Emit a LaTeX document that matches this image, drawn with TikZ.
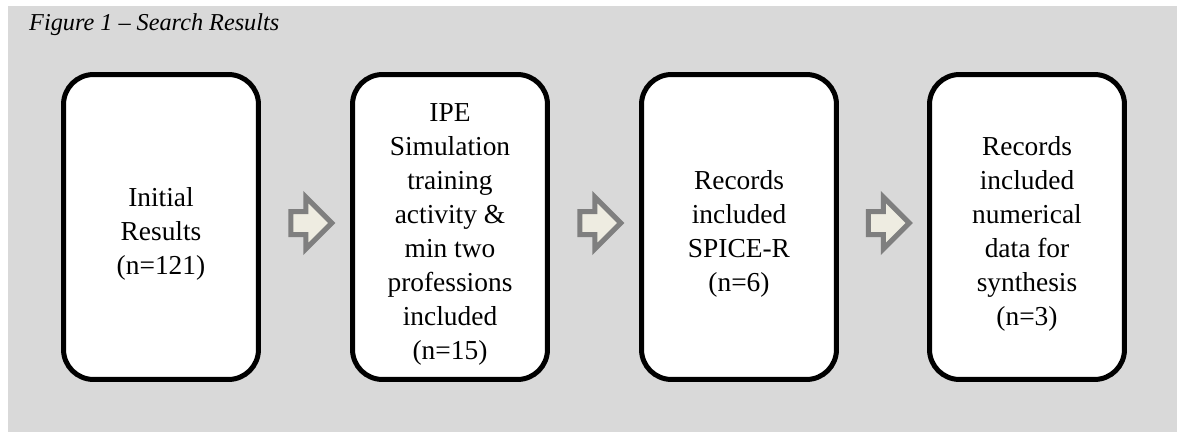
\documentclass[tikz,border=0pt]{standalone}
\usepackage{fontspec}
\setmainfont{Liberation Serif}
\usepackage{tikz}
\usetikzlibrary{shapes.arrows,calc}

\definecolor{bggray}{HTML}{D9D9D9}
\definecolor{arrowfill}{HTML}{EEECE1}
\definecolor{arrowline}{HTML}{7F7F7F}

% pushes the text of a box a little below its middle
\newcommand{\lowtop}{\rule{0pt}{0.66cm}}

\tikzset{
	stagebox/.style={draw, line width=0.1cm, rounded corners=0.6cm, fill=white,
		minimum width=3.9cm, minimum height=6.1cm, inner sep=0pt, align=center,
		font=\fontsize{15.6}{19.4}\selectfont},
	stagearrow/.style={single arrow, draw=arrowline, fill=arrowfill, line width=0.1cm,
		minimum height=0.82cm, inner sep=0.18cm, single arrow head extend=0.29cm,
		single arrow tip angle=90, yshift=0.08cm}
}

\begin{document}
\begin{tikzpicture}[x=0.02cm,y=-0.02cm]
	\useasboundingbox (0,0) rectangle (1177,433);
	\fill[bggray] (8,6) rectangle (1177,432);
	
	\node[anchor=base west, font=\fontsize{13.8}{16}\selectfont\itshape] (title) at (23,30) {Figure 1 – Search Results};
	
	%-------------------------------------
	\node[stagebox] (initial) at (161,227) {\lowtop Initial\\Results\\(n=121)};
	\node[stagebox] (ipe) at (450,227) {\lowtop IPE\\Simulation\\training\\activity \&\\min two\\professions\\included\\(n=15)};
	\node[stagebox] (spice) at (739,227) {\lowtop Records\\included\\SPICE-R\\(n=6)};
	\node[stagebox] (synth) at (1027,227) {\lowtop Records\\included\\numerical\\data for\\synthesis\\(n=3)};
	
	%-------------------------------------
	\node[stagearrow] (arr1) at ($(initial.east)!0.5!(ipe.west)$) {};
	\node[stagearrow] (arr2) at ($(ipe.east)!0.5!(spice.west)$) {};
	\node[stagearrow] (arr3) at ($(spice.east)!0.5!(synth.west)$) {};
	
\end{tikzpicture}
\end{document}
